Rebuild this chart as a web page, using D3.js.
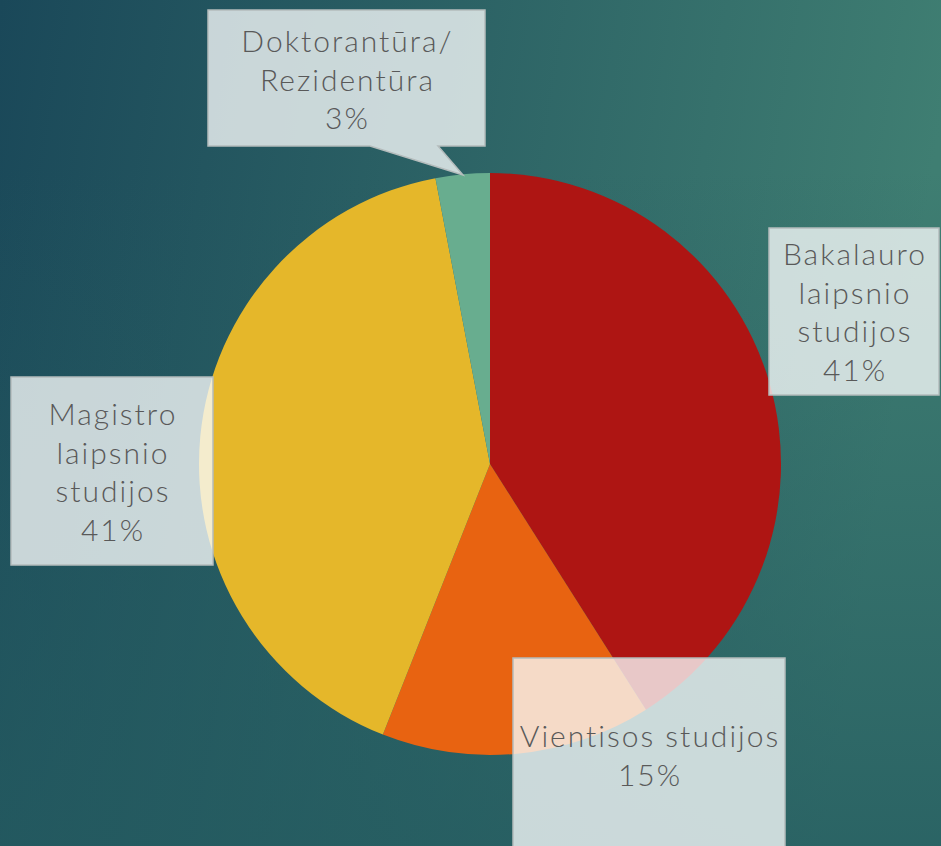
<!DOCTYPE html>
<html>
<head>
<meta charset="utf-8">
<script src="https://cdn.jsdelivr.net/npm/d3@7"></script>
<style>
  html, body { margin: 0; padding: 0; overflow: hidden; }
  svg { display: block; }
</style>
</head>
<body>
<script>
// -- data --
var categories = ["Bakalauro laipsnio studijos", "Vientisos studijos", "Magistro laipsnio studijos", "Doktorantūra/ Rezidentūra"];
var shares = [41, 15, 41, 3];
var labelLines = [
    ["Bakalauro", "laipsnio", "studijos"],
    ["Vientisos studijos"],
    ["Magistro", "laipsnio", "studijos"],
    ["Doktorantūra/", "Rezidentūra"]
];
var sliceColours = ["#ae1513", "#e86311", "#e5b72a", "#68ad8f"];

var width = 941,
    height = 846;

var cx = 490, cy = 464, radius = 291;

// label boxes (x, y, w, h) as placed on the slide
var boxes = [
    {x: 769, y: 228, w: 170, h: 167},
    {x: 513, y: 658, w: 272, h: 200},
    {x: 11,  y: 377, w: 202, h: 188},
    {x: 208, y: 10,  w: 277, h: 136, pointer: [[370, 146], [463, 175], [438, 146]]}
];
// first baseline for each label
var firstBaseline = [265, 747, 425, 52];
var lineGap = 38.5;

var svg = d3.select("body")
    .append("svg")
    .attr("width", width)
    .attr("height", height);

var defs = svg.append("defs");

var bgGrad = defs.append("linearGradient")
    .attr("id", "bg")
    .attr("x1", 0).attr("y1", 0)
    .attr("x2", 1).attr("y2", 0.15);
bgGrad.append("stop").attr("offset", 0).attr("stop-color", "#1a4859");
bgGrad.append("stop").attr("offset", 1).attr("stop-color", "#3f7e72");

var shade = defs.append("linearGradient")
    .attr("id", "shade")
    .attr("x1", 0).attr("y1", 0)
    .attr("x2", 0).attr("y2", 1);
shade.append("stop").attr("offset", 0.2).attr("stop-color", "#245b60").attr("stop-opacity", 0);
shade.append("stop").attr("offset", 1).attr("stop-color", "#245b60").attr("stop-opacity", 0.75);

svg.append("rect").attr("width", width).attr("height", height).attr("fill", "url(#bg)");
svg.append("rect").attr("width", width).attr("height", height).attr("fill", "url(#shade)");

// -- pie --
var pie = d3.pie().sort(null).value(function(d){ return d; });
var arc = d3.arc().innerRadius(0).outerRadius(radius);

var g = svg.append("g")
    .attr("transform", "translate(" + cx + "," + cy + ")");

g.selectAll("path")
    .data(pie(shares))
    .enter()
    .append("path")
    .attr("d", arc)
    .attr("fill", function(d, i){ return sliceColours[i]; });

// -- labels --
var labels = svg.selectAll("g.label")
    .data(categories)
    .enter()
    .append("g")
    .attr("class", "label");

labels.append("path")
    .attr("d", function(d, i){
        var b = boxes[i];
        var p = d3.path();
        p.moveTo(b.x, b.y);
        p.lineTo(b.x + b.w, b.y);
        p.lineTo(b.x + b.w, b.y + b.h);
        if (b.pointer) {
            p.lineTo(b.pointer[2][0], b.pointer[2][1]);
            p.lineTo(b.pointer[1][0], b.pointer[1][1]);
            p.lineTo(b.pointer[0][0], b.pointer[0][1]);
        }
        p.lineTo(b.x, b.y + b.h);
        p.closePath();
        return p.toString();
    })
    .attr("fill", "#f8fbfb")
    .attr("fill-opacity", 0.78)
    .attr("stroke", "#b4bcbc")
    .attr("stroke-width", 1.5);

labels.each(function(d, i){
    var b = boxes[i];
    var lines = labelLines[i].concat([shares[i] + "%"]);
    var t = d3.select(this).append("text")
        .attr("text-anchor", "middle")
        .attr("font-family", "Lato, 'Noto Sans', sans-serif")
        .attr("font-weight", 300)
        .attr("font-size", 30)
        .attr("letter-spacing", 2)
        .attr("fill", "#595959");
    lines.forEach(function(line, j){
        t.append("tspan")
            .attr("x", b.x + b.w / 2 + 1)
            .attr("y", firstBaseline[i] + j * lineGap)
            .text(line);
    });
});
</script>
</body>
</html>
